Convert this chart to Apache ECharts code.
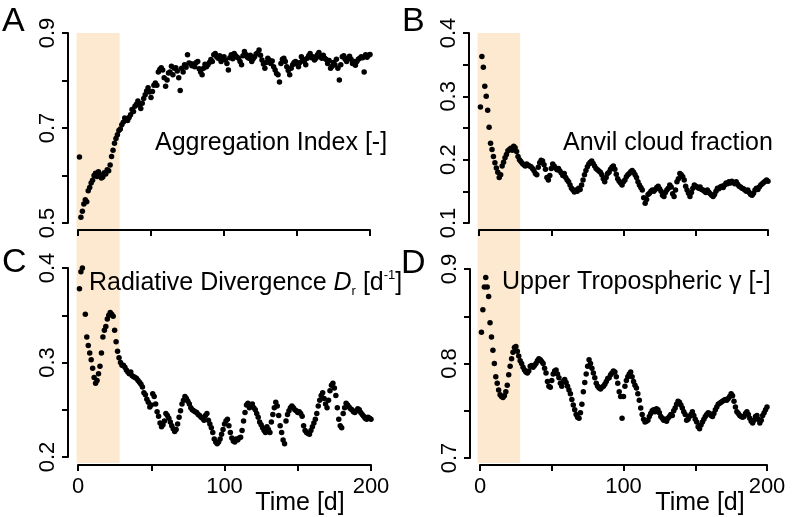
<!DOCTYPE html>
<html><head><meta charset="utf-8">
<script src="https://cdn.jsdelivr.net/npm/echarts@6/dist/echarts.min.js"></script>
<style>html,body{margin:0;padding:0;background:#fff}#c{width:796px;height:517px}</style>
</head><body><div id="c"></div><script>
// Panel A: Aggregation Index [-], days 1..200
const aggIndex = [
0.639,0.512,0.525,0.540,0.549,0.545,0.568,0.575,0.584,0.590,
0.600,0.605,0.598,0.608,0.602,0.595,0.597,0.606,0.603,0.612,
0.610,0.622,0.640,0.653,0.668,0.678,0.686,0.695,0.698,0.707,
0.712,0.721,0.718,0.716,0.722,0.728,0.739,0.735,0.746,0.750,
0.757,0.748,0.741,0.752,0.762,0.770,0.778,0.785,0.776,0.764,
0.777,0.790,0.795,0.790,0.818,0.823,0.827,0.822,0.806,0.788,
0.801,0.816,0.818,0.830,0.812,0.826,0.827,0.820,0.806,0.779,
0.826,0.818,0.833,0.828,0.854,0.837,0.836,0.831,0.835,0.829,
0.838,0.840,0.825,0.818,0.812,0.826,0.834,0.829,0.833,0.838,
0.844,0.840,0.854,0.857,0.850,0.847,0.852,0.840,0.846,0.850,
0.843,0.836,0.822,0.848,0.854,0.846,0.857,0.852,0.849,0.847,
0.840,0.833,0.852,0.861,0.855,0.849,0.847,0.853,0.840,0.846,
0.850,0.856,0.858,0.864,0.853,0.843,0.835,0.826,0.838,0.847,
0.843,0.836,0.841,0.829,0.822,0.815,0.812,0.797,0.836,0.845,
0.847,0.840,0.829,0.821,0.812,0.826,0.833,0.838,0.840,0.835,
0.829,0.838,0.850,0.845,0.840,0.833,0.847,0.852,0.857,0.848,
0.850,0.843,0.847,0.854,0.859,0.850,0.847,0.853,0.847,0.844,
0.836,0.842,0.826,0.830,0.838,0.833,0.845,0.826,0.801,0.833,
0.850,0.852,0.845,0.840,0.847,0.851,0.845,0.836,0.840,0.832,
0.840,0.845,0.847,0.850,0.848,0.818,0.854,0.849,0.853,0.855];
// Panel B: Anvil cloud fraction
const anvilFrac = [
0.283,0.363,0.346,0.316,0.300,0.278,0.251,0.226,0.216,0.205,
0.195,0.187,0.180,0.172,0.176,0.190,0.196,0.203,0.208,0.214,
0.216,0.218,0.215,0.221,0.219,0.213,0.205,0.200,0.197,0.194,
0.192,0.190,0.193,0.191,0.190,0.189,0.186,0.183,0.178,0.176,
0.188,0.195,0.199,0.198,0.192,0.185,0.172,0.168,0.175,0.186,
0.193,0.190,0.187,0.184,0.186,0.182,0.179,0.175,0.178,0.172,
0.168,0.165,0.160,0.155,0.152,0.149,0.152,0.150,0.155,0.153,
0.160,0.168,0.176,0.183,0.189,0.193,0.196,0.198,0.194,0.190,
0.186,0.184,0.182,0.180,0.176,0.170,0.165,0.172,0.178,0.180,
0.185,0.188,0.190,0.185,0.177,0.170,0.166,0.163,0.160,0.165,
0.168,0.173,0.176,0.178,0.181,0.183,0.180,0.176,0.172,0.165,
0.160,0.156,0.152,0.140,0.131,0.137,0.145,0.147,0.150,0.152,
0.150,0.153,0.156,0.158,0.154,0.150,0.144,0.142,0.148,0.152,
0.155,0.160,0.157,0.146,0.142,0.152,0.165,0.170,0.178,0.176,
0.173,0.168,0.158,0.152,0.147,0.142,0.148,0.155,0.160,0.158,
0.157,0.155,0.157,0.153,0.152,0.150,0.148,0.152,0.149,0.146,
0.144,0.142,0.145,0.150,0.155,0.154,0.157,0.158,0.156,0.160,
0.163,0.162,0.165,0.163,0.166,0.164,0.162,0.165,0.161,0.158,
0.157,0.155,0.154,0.152,0.150,0.152,0.148,0.145,0.144,0.147,
0.152,0.155,0.153,0.157,0.160,0.162,0.164,0.166,0.168,0.166];
// Panel C: Radiative Divergence D_r [d^-1]
const radDiv = [
0.378,0.396,0.400,0.403,0.351,0.327,0.318,0.310,0.303,0.294,
0.284,0.278,0.281,0.288,0.296,0.310,0.327,0.334,0.338,0.346,
0.350,0.353,0.351,0.349,0.334,0.322,0.312,0.305,0.300,0.297,
0.297,0.295,0.292,0.290,0.288,0.290,0.286,0.285,0.284,0.283,
0.281,0.279,0.277,0.274,0.268,0.266,0.261,0.258,0.253,0.255,
0.267,0.264,0.256,0.248,0.243,0.236,0.232,0.234,0.238,0.246,
0.244,0.241,0.237,0.233,0.230,0.227,0.229,0.235,0.242,0.249,
0.256,0.260,0.264,0.262,0.259,0.256,0.252,0.250,0.249,0.248,
0.247,0.245,0.244,0.242,0.241,0.239,0.244,0.246,0.239,0.235,
0.231,0.226,0.219,0.216,0.214,0.216,0.219,0.224,0.229,0.235,
0.238,0.240,0.233,0.226,0.220,0.217,0.216,0.219,0.218,0.220,
0.221,0.228,0.238,0.247,0.255,0.257,0.252,0.254,0.256,0.252,
0.250,0.246,0.242,0.237,0.234,0.231,0.228,0.226,0.232,0.229,
0.226,0.237,0.245,0.252,0.258,0.254,0.244,0.233,0.226,0.218,
0.214,0.238,0.245,0.249,0.252,0.254,0.252,0.250,0.249,0.247,
0.248,0.246,0.243,0.233,0.228,0.226,0.225,0.224,0.228,0.232,
0.236,0.240,0.246,0.254,0.260,0.265,0.268,0.262,0.256,0.252,
0.260,0.270,0.276,0.278,0.273,0.265,0.252,0.240,0.233,0.231,
0.246,0.252,0.257,0.255,0.253,0.251,0.250,0.248,0.247,0.249,
0.251,0.250,0.247,0.245,0.243,0.241,0.240,0.242,0.241,0.240];
// Panel D: Upper Tropospheric gamma [-]
const utGamma = [
0.833,0.857,0.881,0.891,0.881,0.871,0.843,0.828,0.814,0.800,
0.786,0.779,0.772,0.767,0.765,0.764,0.766,0.770,0.777,0.788,
0.797,0.805,0.812,0.817,0.818,0.813,0.808,0.803,0.800,0.796,
0.793,0.791,0.790,0.792,0.797,0.798,0.796,0.798,0.800,0.803,
0.805,0.804,0.802,0.800,0.795,0.790,0.781,0.776,0.775,0.782,
0.789,0.792,0.793,0.789,0.785,0.779,0.776,0.781,0.783,0.780,
0.776,0.772,0.768,0.762,0.756,0.751,0.746,0.743,0.742,0.748,
0.757,0.770,0.780,0.789,0.797,0.804,0.800,0.795,0.790,0.785,
0.779,0.776,0.774,0.773,0.775,0.776,0.778,0.781,0.784,0.785,
0.788,0.790,0.792,0.791,0.786,0.779,0.770,0.765,0.742,0.765,
0.776,0.782,0.786,0.789,0.791,0.786,0.781,0.777,0.774,0.768,
0.761,0.753,0.746,0.741,0.738,0.739,0.740,0.744,0.747,0.750,
0.751,0.749,0.752,0.751,0.748,0.744,0.742,0.740,0.741,0.739,
0.742,0.744,0.746,0.745,0.750,0.753,0.757,0.760,0.759,0.756,
0.753,0.749,0.746,0.740,0.741,0.744,0.746,0.749,0.745,0.741,
0.738,0.733,0.731,0.735,0.738,0.741,0.744,0.746,0.748,0.747,
0.745,0.744,0.747,0.751,0.754,0.757,0.758,0.759,0.760,0.761,
0.762,0.761,0.763,0.765,0.768,0.766,0.760,0.754,0.749,0.747,
0.745,0.744,0.743,0.744,0.747,0.749,0.746,0.742,0.739,0.737,
0.740,0.744,0.745,0.741,0.737,0.740,0.745,0.748,0.751,0.754];

const shadeDays = [-1, 28.5];
const xTickLabels = ['0', '100', '200'];
const yTickLabelsA = ['0.5', '0.7', '0.9'];
const yTickLabelsB = ['0.1', '0.2', '0.3', '0.4'];
const yTickLabelsC = ['0.2', '0.3', '0.4'];
const yTickLabelsD = ['0.7', '0.8', '0.9'];

const FONT = '"Liberation Sans", Arial, Helvetica, sans-serif';
const toPoints = arr => arr.map((v, i) => [i + 1, v]);
const lineSt = {color: '#000', width: 2};

function yAx(gi, min, max, interval, labels) {
  return {type: 'value', gridIndex: gi, min, max, interval, offset: 10, position: 'left',
    axisLine: {show: true, onZero: false, lineStyle: lineSt},
    axisTick: {show: true, length: 6, lineStyle: lineSt},
    splitLine: {show: false},
    axisLabel: {rotate: 90, margin: 9, color: '#000', fontSize: 22, fontFamily: FONT,
      formatter: v => { const s = (+v).toFixed(1); return (labels.includes(s) && Math.abs(v - parseFloat(s)) < 1e-6) ? s : ''; }}};
}
function xAx(gi, showLabels, offset) {
  return {type: 'value', gridIndex: gi, min: 0, max: 200, interval: 50, offset, position: 'bottom',
    axisLine: {show: true, onZero: false, lineStyle: lineSt},
    axisTick: {show: true, length: 6, lineStyle: lineSt},
    splitLine: {show: false},
    axisLabel: {show: showLabels, margin: 11, color: '#000', fontSize: 22, fontFamily: FONT,
      formatter: v => xTickLabels.includes(String(v)) ? String(v) : ''}};
}
function hidden(gi, min, max) {
  return {type: 'value', gridIndex: gi, min, max, show: false, splitLine: {show: false}};
}
function scatter(i, arr) {
  return {type: 'scatter', xAxisIndex: i, yAxisIndex: i, data: toPoints(arr), symbolSize: 5.5,
    itemStyle: {color: '#000', opacity: 1}, z: 3, silent: true, animation: false};
}
function shade(i) {
  return {type: 'custom', xAxisIndex: i, yAxisIndex: i, data: [shadeDays], z: -1, silent: true, animation: false,
    renderItem: (params, api) => {
      const p0 = api.coord([api.value(0), 1]);
      const p1 = api.coord([api.value(1), 0]);
      return {type: 'rect', shape: {x: p0[0], y: p0[1], width: p1[0] - p0[0], height: p1[1] - p0[1]},
        style: {fill: '#FCE9D0'}};
    }};
}
function label(x, y, text, size, align) {
  return {type: 'text', x, y, style: {text, font: size + 'px ' + FONT, fill: '#000', align: align || 'left', verticalAlign: 'middle'}};
}

const chart = echarts.init(document.getElementById('c'), null, {renderer: 'canvas'});
chart.setOption({
  animation: false,
  backgroundColor: '#fff',
  grid: [
    {left: 78, top: 33, width: 292, height: 190},
    {left: 479, top: 33, width: 289, height: 190},
    {left: 78, top: 268, width: 293, height: 189},
    {left: 480, top: 269, width: 287, height: 189},
    {left: 78, top: 33, width: 292, height: 430},
    {left: 479, top: 33, width: 289, height: 430}
  ],
  xAxis: [xAx(0, false, 7), xAx(1, false, 7), xAx(2, true, 8), xAx(3, true, 7), hidden(4, 0, 200), hidden(5, 0, 200)],
  yAxis: [yAx(0, 0.5, 0.9, 0.1, yTickLabelsA), yAx(1, 0.1, 0.4, 0.05, yTickLabelsB),
          yAx(2, 0.2, 0.4, 0.05, yTickLabelsC), yAx(3, 0.7, 0.9, 0.05, yTickLabelsD),
          hidden(4, 0, 1), hidden(5, 0, 1)],
  series: [shade(4), shade(5), scatter(0, aggIndex), scatter(1, anvilFrac), scatter(2, radDiv), scatter(3, utGamma)],
  graphic: [
    label(2, 22, 'A', 34), label(402, 22, 'B', 34), label(2, 263, 'C', 34), label(401, 264, 'D', 34),
    label(155, 143, 'Aggregation Index [-]', 25),
    label(563, 143, 'Anvil cloud fraction', 25),
    {type: 'text', x: 89, y: 283, style: {
      text: 'Radiative Divergence {i|D}{sub|r} [d{sup|-1}]', font: '25px ' + FONT, fill: '#000', verticalAlign: 'middle',
      rich: {
        i: {fontSize: 25, fontStyle: 'italic', fontFamily: FONT, lineHeight: 29},
        sub: {fontSize: 13, fontFamily: FONT, verticalAlign: 'bottom', lineHeight: 13},
        sup: {fontSize: 13, fontFamily: FONT, verticalAlign: 'top', lineHeight: 13}
      }}},
    label(502, 282, 'Upper Tropospheric γ [-]', 25),
    label(300, 503, 'Time [d]', 25, 'center'),
    label(700, 503, 'Time [d]', 25, 'center')
  ]
});
</script></body></html>
